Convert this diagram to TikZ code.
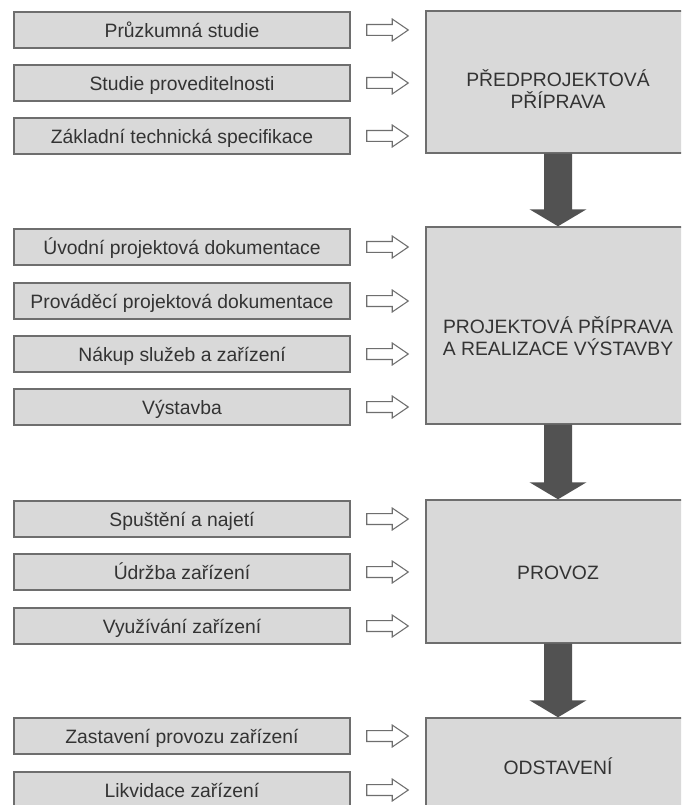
\documentclass[tikz,border=0pt]{standalone}
\usepackage{fontspec}
\setmainfont{Liberation Sans}
\usetikzlibrary{calc}

\definecolor{boxfill}{HTML}{D9D9D9}
\definecolor{boxline}{HTML}{6E6E6E}
\definecolor{txtgray}{HTML}{333333}
\definecolor{arrowdark}{HTML}{525252}

\newcommand\HollowArrow[2]{% white arrow from task #1 towards phase #2
  \path[hollow arrow] let \p1=($(#1.east)+(16,0)$),
    \p2=($(#1.east -| #2.west)+(-17,0)$) in
    (\x1,\y1+4.1pt) -- (\x2-12pt,\y1+4.1pt) -- (\x2-12pt,\y1+8.2pt)
    -- (\x2,\y1) -- (\x2-12pt,\y1-8.2pt) -- (\x2-12pt,\y1-4.1pt)
    -- (\x1,\y1-4.1pt) -- cycle;
}
\newcommand\DarkArrow[2]{% thick arrow from phase #1 down to phase #2
  \path[dark arrow] let \p1=(#1.south), \p2=(#2.north) in
    (\x1-10.5pt,\y1) -- (\x1-10.5pt,\y2+12.75pt) -- (\x1-21.4pt,\y2+12.75pt)
    -- (\x1,\y2) -- (\x1+21.4pt,\y2+12.75pt) -- (\x1+10.5pt,\y2+12.75pt)
    -- (\x1+10.5pt,\y1) -- cycle;
}

\begin{document}
\begin{tikzpicture}[x=0.75pt,y=-0.75pt,
  task/.style={draw=boxline,fill=boxfill,line width=1.1pt,
    minimum width=252pt,minimum height=27pt,inner sep=0pt,
    text height=12.5pt,text depth=1.8pt,text=txtgray,
    font=\fontsize{14.5}{17}\selectfont},
  phase/.style={draw=boxline,fill=boxfill,line width=1.1pt,
    minimum width=198pt,inner sep=0pt},
  phase text/.style={text=txtgray,align=center,
    font=\fontsize{14.5}{16}\selectfont},
  hollow arrow/.style={draw=boxline,fill=white,line width=0.8pt},
  dark arrow/.style={fill=arrowdark}]
\clip (0,0) rectangle (681,805);
\fill[white] (0,0) rectangle (681,805);
% phases (right column)
\node[phase,minimum height=106.5pt] (pA) at (558,82) {};
\node[phase,minimum height=147.75pt] (pB) at (558,325.5) {};
\node[phase,minimum height=107.25pt] (pC) at (558,571.5) {};
\node[phase,minimum height=90pt] (pD) at (558,778) {};
\node[phase text] (tA) at (558,89) {PŘEDPROJEKTOVÁ\\PŘÍPRAVA};
\node[phase text] (tB) at (558,336) {PROJEKTOVÁ PŘÍPRAVA\\A REALIZACE VÝSTAVBY};
\node[phase text] (tC) at (558,573) {PROVOZ};
\node[phase text] (tD) at (558,766) {ODSTAVENÍ};
% tasks (left column)
\foreach \ty/\tk/\tt in {30/s1/Průzkumná studie, 83/s2/Studie proveditelnosti,
    136/s3/Základní technická specifikace, 247/s4/Úvodní projektová dokumentace,
    301/s5/Prováděcí projektová dokumentace, 354/s6/Nákup služeb a zařízení,
    407/s7/Výstavba, 519/s8/Spuštění a najetí, 572/s9/Údržba zařízení,
    626/s10/Využívání zařízení, 736/s11/Zastavení provozu zařízení,
    790/s12/Likvidace zařízení}
  \node[task] (\tk) at (182,\ty) {\tt};
% arrows
\foreach \tk/\ph in {s1/pA,s2/pA,s3/pA,s4/pB,s5/pB,s6/pB,s7/pB,
    s8/pC,s9/pC,s10/pC,s11/pD,s12/pD}
  {\HollowArrow{\tk}{\ph}}
\DarkArrow{pA}{pB}
\DarkArrow{pB}{pC}
\DarkArrow{pC}{pD}
\end{tikzpicture}
\end{document}
